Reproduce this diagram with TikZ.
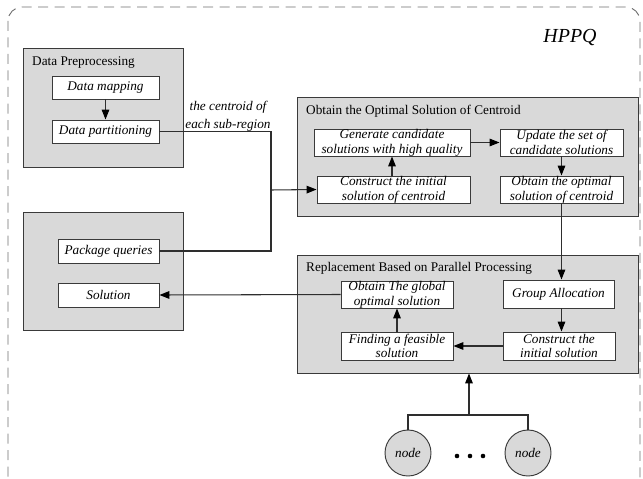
\documentclass[tikz,border=0pt]{standalone}
\usepackage{fontspec}
\setmainfont{Liberation Serif}
\usetikzlibrary{arrows.meta}
\definecolor{grpfill}{HTML}{D9D9D9}
\definecolor{edge}{HTML}{3A3A3A}
\definecolor{conn}{HTML}{2E2E2E}
\definecolor{frame}{HTML}{6E6E6E}
\begin{document}
\begin{tikzpicture}[x=0.03cm,y=-0.03cm,
  sz/.style 2 args={minimum width=#1*0.03cm,minimum height=#2*0.03cm},
  grp/.style={draw=edge,fill=grpfill,line width=0.8pt,inner sep=0pt,rectangle},
  bx/.style={draw=edge,fill=white,line width=0.8pt,inner sep=0pt,align=center,rectangle,
    font=\fontsize{11.3}{12.6}\selectfont\itshape},
  ttl/.style={anchor=base west,inner sep=0pt,font=\fontsize{11.3}{13}\selectfont},
  lnk/.style={draw=conn,line width=0.9pt},
  ar/.style={lnk,-{Triangle[length=8.5pt,width=6.5pt,color=black]}},
  circ/.style={circle,draw=edge,fill=grpfill,line width=0.8pt,minimum size=46*0.03cm,inner sep=0pt,
    font=\fontsize{11.3}{13}\selectfont\itshape},
  dotn/.style={circle,fill=black,minimum size=4.6*0.03cm,inner sep=0pt}]
\useasboundingbox (0,0) rectangle (643,479);
% outer dashed frame
\draw[draw=frame,line width=0.8pt,dash pattern=on 10*0.03cm off 6.5*0.03cm,rounded corners=14*0.03cm]
  (8,7) rectangle (640,492);
\node[anchor=base,inner sep=0pt,font=\fontsize{17}{20}\selectfont\itshape] (hppq) at (570,43) {HPPQ};
% group boxes
\node[grp,sz={160}{119}] (g1) at (103,107.5) {};
\node[grp,sz={160}{118}] (g2) at (103,271) {};
\node[grp,sz={341}{119}] (g3) at (467.5,156.5) {};
\node[grp,sz={341}{118}] (g4) at (467.5,314) {};
\node[ttl] (t1) at (32,66) {Data Preprocessing};
\node[ttl] (t3) at (306,115) {Obtain the Optimal Solution of Centroid};
\node[ttl] (t4) at (306,271) {Replacement Based on Parallel Processing};
% inner boxes
\node[bx,sz={107}{23}] (dm) at (105.5,87.5) {Data mapping};
\node[bx,sz={107}{23}] (dpart) at (105.5,131.5) {Data partitioning};
\node[bx,sz={101}{24}] (pq) at (108.5,251) {Package queries};
\node[bx,sz={101}{24}] (sol) at (108.5,295) {Solution};
\node[bx,sz={156}{27}] (gen) at (392,142.5) {Generate candidate\\solutions with high quality};
\node[bx,sz={123}{27}] (upd) at (561.5,142.5) {Update the set of\\candidate solutions};
\node[bx,sz={153}{27}] (cin) at (393.5,189.5) {Construct the initial\\solution of centroid};
\node[bx,sz={123}{27}] (oo) at (561.5,189.5) {Obtain the optimal\\solution of centroid};
\node[bx,sz={111}{28}] (ga) at (558.5,294) {Group Allocation};
\node[bx,sz={112}{27}] (og) at (397,294.5) {Obtain The global\\optimal solution};
\node[bx,sz={112}{28}] (ff) at (397,346) {Finding a feasible\\solution};
\node[bx,sz={112}{28}] (cis) at (559,346) {Construct the\\initial solution};
% label
\node[inner sep=0pt,align=center,font=\fontsize{11.3}{15}\selectfont\itshape] (lab) at (228,116)
  {the centroid of\\each sub-region};
% circles
\node[circ] (n1) at (408,453) {node};
\node[circ] (n2) at (528,453) {node};
\node[dotn] (d1) at (457,456) {};
\node[dotn] (d2) at (470,456) {};
\node[dotn] (d3) at (483,456) {};
% connectors
\coordinate (j3) at (271,190);
\coordinate (jt) at (469,415);
\draw[ar] (dm) -- (dpart);
\draw[lnk] (dpart.east) -| (j3) |- (pq.east);
\draw[ar] (j3) -- (cin.west);
\draw[ar] (cin.north -| gen.south) -- (gen.south);
\draw[ar] (gen) -- (upd);
\draw[ar] (upd) -- (oo);
\draw[ar] (oo.south) -- (oo.south |- ga.north);
\draw[ar] (oo.south |- ga.south) -- (oo.south |- cis.north);
\draw[ar] (cis) -- (ff);
\draw[ar] (ff) -- (og);
\draw[ar] (og.west) -- (sol.east);
\draw[lnk] (n1.north) |- (jt) -| (n2.north);
\draw[ar] (jt) -- (jt |- g4.south);
\end{tikzpicture}
\end{document}
